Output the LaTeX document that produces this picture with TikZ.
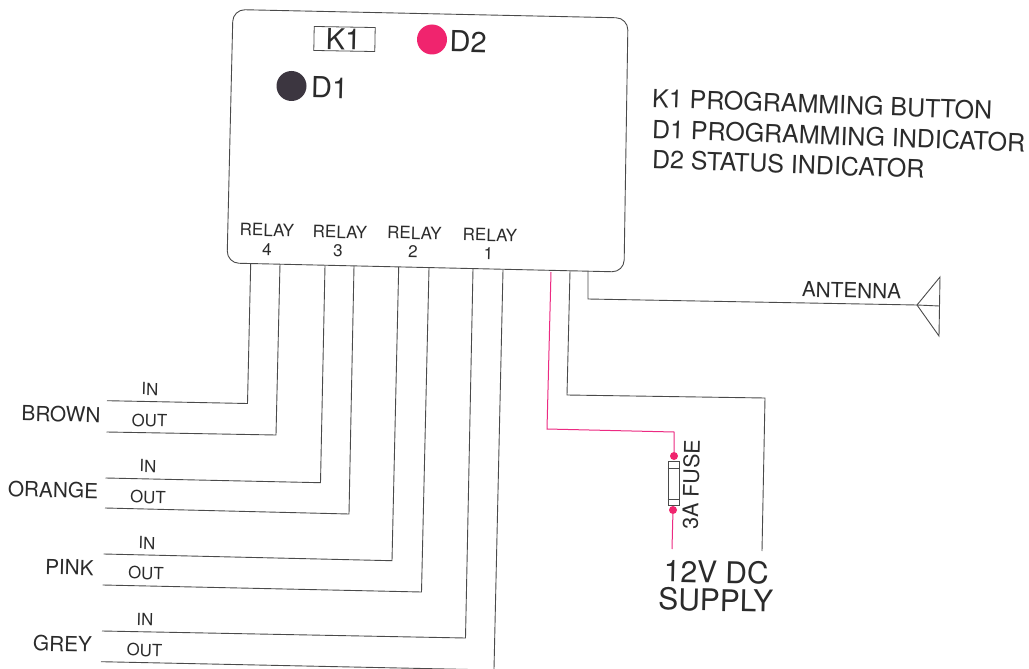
\documentclass[tikz,border=0pt]{standalone}
\usepackage{fontspec}
\setmainfont{TeX Gyre Heros}
\definecolor{wire}{HTML}{4A4A4A}
\definecolor{ink}{HTML}{2B2B2B}
\definecolor{hot}{HTML}{EC2A82}
\definecolor{led}{HTML}{F0246E}
\definecolor{dark}{HTML}{3C3640}
\tikzset{
  wireline/.style={draw=wire,line width=0.9pt,line join=miter},
  hotline/.style={draw=hot,line width=1pt,line join=miter},
  lab/.style={inner sep=0pt,text=ink,rotate=-1.3,anchor=center},
  lead/.style={lab,font=\fontsize{16.8}{16.8}\selectfont},
  wirename/.style={lab,font=\fontsize{20.8}{20.8}\selectfont},
  relay/.style={lab,font=\fontsize{17}{17}\selectfont},
  legend/.style={lab,rotate=-0.8,anchor=west,font=\fontsize{25}{25}\selectfont},
  big/.style={lab,font=\fontsize{29}{29}\selectfont},
  dot/.style={circle,fill=led,draw=none,inner sep=0pt,minimum size=8pt}
}
\begin{document}
\begin{tikzpicture}[x=1pt,y=-1pt]
\useasboundingbox[fill=white] (0,0) rectangle (1029,669);
% module
\draw[wireline,rounded corners=12pt] (233,9.5) -- (628,18) -- (624,272) -- (227,263) -- cycle;
\node[draw=wire,line width=0.8pt,rotate=-1,minimum width=61pt,minimum height=24pt,inner sep=0pt] (k1box) at (344.5,39) {};
\node[big] (k1) at (343.5,39) {K1};
\node[circle,fill=led,minimum size=30pt,inner sep=0pt] (d2led) at (432,39.5) {};
\node[big,anchor=west] (d2) at (449.5,41) {D2};
\node[circle,fill=dark,minimum size=30pt,inner sep=0pt] (d1led) at (291.5,86) {};
\node[big,anchor=west] (d1) at (311,87) {D1};
% legend
\node[legend] (l1) at (652,98) {K1 PROGRAMMING BUTTON};
\node[legend] (l2) at (652,129) {D1 PROGRAMMING INDICATOR};
\node[legend] (l3) at (652,159) {D2 STATUS INDICATOR};
% relay labels
\node[relay] (r4) at (267,230) {RELAY};
\node[relay] (r4n) at (267,250) {4};
\node[relay] (r3) at (340,232) {RELAY};
\node[relay] (r3n) at (338,251) {3};
\node[relay] (r2) at (414.5,233) {RELAY};
\node[relay] (r2n) at (413,252) {2};
\node[relay] (r1) at (490,235) {RELAY};
\node[relay] (r1n) at (488.5,254) {1};
% relay wires
\coordinate (a1) at (250.7,263.5); \coordinate (a2) at (247.5,403.5); \coordinate (a3) at (107,400.7);
\coordinate (b1) at (280,264); \coordinate (b2) at (276,435); \coordinate (b3) at (106.5,432);
\coordinate (c1) at (325,265.5); \coordinate (c2) at (320.5,482.7); \coordinate (c3) at (105.5,478);
\coordinate (d1a) at (354,266); \coordinate (d2a) at (349,514); \coordinate (d3a) at (105,508);
\coordinate (e1) at (398.7,267); \coordinate (e2) at (392,560.7); \coordinate (e3) at (103.7,554);
\coordinate (f1) at (429,268); \coordinate (f2) at (421.5,592); \coordinate (f3) at (102.7,585);
\coordinate (g1) at (473,269); \coordinate (g2) at (465.5,638); \coordinate (g3) at (102,631);
\coordinate (h1) at (503,270); \coordinate (h2) at (494,669); \coordinate (h3) at (101,661.7); \coordinate (h4) at (494,670);
\draw[wireline] (a1) -- (a2) -- (a3);
\draw[wireline] (b1) -- (b2) -- (b3);
\draw[wireline] (c1) -- (c2) -- (c3);
\draw[wireline] (d1a) -- (d2a) -- (d3a);
\draw[wireline] (e1) -- (e2) -- (e3);
\draw[wireline] (f1) -- (f2) -- (f3);
\draw[wireline] (g1) -- (g2) -- (g3);
\draw[wireline] (h1) -- (h2);
\draw[wireline] (h3) -- (h4);
% wire labels
\node[lead] (in4) at (150,389) {IN};
\node[lead] (out4) at (149.5,420.5) {OUT};
\node[wirename] (brown) at (61,414) {BROWN};
\node[lead] (in3) at (148,466) {IN};
\node[lead] (out3) at (148,497) {OUT};
\node[wirename] (orange) at (53,490) {ORANGE};
\node[lead] (in2) at (147,543) {IN};
\node[lead] (out2) at (146,573) {OUT};
\node[wirename] (pink) at (69.5,567.5) {PINK};
\node[lead] (in1) at (145,619.5) {IN};
\node[lead] (out1) at (144.5,650) {OUT};
\node[wirename] (grey) at (62.5,644) {GREY};
% power
\coordinate (p1) at (551,272); \coordinate (p2) at (547,429); \coordinate (p3) at (674,432);
\coordinate (p4) at (672,549);
\node[dot] (fa) at (674,456) {};
\node[dot] (fb) at (673,510) {};
\draw[hotline] (p1) -- (p2) -- (p3) -- (fa);
\draw[hotline] (fb) -- (p4);
\node[draw=wire,fill=white,line width=0.8pt,minimum width=11pt,minimum height=44.5pt,inner sep=0pt] (fuse) at (673.5,483.5) {};
\draw[wireline,line width=0.7pt] ([yshift=-7pt]fuse.north west) -- ([yshift=-7pt]fuse.north east);
\draw[wireline,line width=0.7pt] ([yshift=7pt]fuse.south west) -- ([yshift=7pt]fuse.south east);
\node[lab,rotate=90,font=\fontsize{21.5}{21.5}\selectfont] (fl) at (691,484.5) {3A FUSE};
\coordinate (s1) at (570,271); \coordinate (s2) at (567,395); \coordinate (s3) at (765,398); \coordinate (s4) at (762,551);
\draw[wireline] (s1) -- (s2) -- (s3) -- (s4);
\node[lab,align=center,font=\fontsize{30}{28}\selectfont] (v12) at (716,586) {12V DC\\SUPPLY};
% antenna
\coordinate (t1) at (588,271); \coordinate (t2) at (588,299);
\coordinate (ap) at (917,305); \coordinate (at) at (940,277); \coordinate (am) at (939.5,306); \coordinate (ab) at (939,336);
\draw[wireline] (t1) -- (t2) -- (ap);
\draw[wireline] (ap) -- (at) -- (ab) -- cycle;
\draw[wireline] (ap) -- (am);
\node[lab,font=\fontsize{20.8}{20.8}\selectfont] (ant) at (851.5,290.5) {ANTENNA};
\end{tikzpicture}
\end{document}
